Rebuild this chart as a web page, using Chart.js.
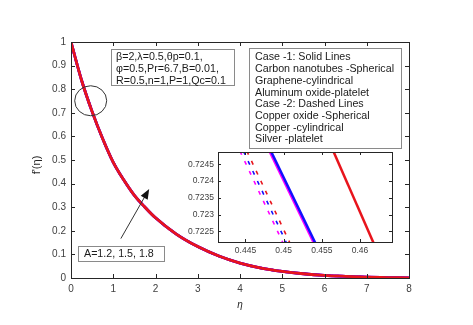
<!DOCTYPE html>
<html>
<head>
<meta charset="utf-8">
<script src="https://cdn.jsdelivr.net/npm/chart.js@4"></script>
<style>
body { margin: 0; background: #fff; }
#wrap { position: relative; width: 473px; height: 325px; }
#main { position: absolute; left: 0; top: 0; }
#inset { position: absolute; left: 170px; top: 140px; }
</style>
</head>
<body>
<div id="wrap">
<canvas id="main" width="473" height="325"></canvas>
<canvas id="inset" width="230" height="120"></canvas>
</div>
<script>
// main curve (all six cases overlap at this scale)
var eta = [0, 0.25, 0.5, 0.75, 1, 1.25, 1.5, 1.75, 2, 2.5, 3, 3.5, 4, 4.5, 5, 5.5, 6, 6.5, 7, 7.5, 8];
var fPrime = [1.000, 0.838, 0.705, 0.590, 0.490, 0.415, 0.350, 0.300, 0.255, 0.185, 0.133, 0.093, 0.063, 0.042, 0.028, 0.018, 0.011, 0.007, 0.004, 0.002, 0.000];

var seriesNames = ['Copper oxide -Spherical', 'Copper -cylindrical', 'Silver -platelet',
                   'Carbon nanotubes -Spherical', 'Graphene-cylindrical', 'Aluminum oxide-platelet'];
var seriesColors = ['#ff00ff', '#1010ff', '#e8141c', '#ff00ff', '#1010ff', '#e8141c'];
var seriesDashed = [true, true, true, false, false, false];
var seriesDashOffset = [0, 2.9, 5.9, 0, 0, 0];   // lines up the dashes of the three dashed cases
var seriesOrder = [5, 4, 3, 2, 1, 0];   // red solid drawn on top

// zoomed inset near eta = 0.45 (values at the two ends of the inset window)
var insetEta = [0.44, 0.465];
var insetCuOxide = [0.72698, 0.71481];
var insetCu = [0.72720, 0.71503];
var insetAg = [0.72742, 0.71525];
var insetCNT = [0.72874, 0.71694];
var insetGraphene = [0.72883, 0.71703];
var insetAl2O3 = [0.73348, 0.72048];
var insetSeries = [insetCuOxide, insetCu, insetAg, insetCNT, insetGraphene, insetAl2O3];

var xTicks = [0, 1, 2, 3, 4, 5, 6, 7, 8];
var yTicks = [0, 0.1, 0.2, 0.3, 0.4, 0.5, 0.6, 0.7, 0.8, 0.9, 1];
var insetXTicks = [0.445, 0.45, 0.455, 0.46];
var insetYTicks = [0.7225, 0.723, 0.7235, 0.724, 0.7245];

var paramLines = ['β=2,λ=0.5,θp=0.1,', 'φ=0.5,Pr=6.7,B=0.01,', 'R=0.5,n=1,P=1,Qc=0.1'];
var legendLines = ['Case -1: Solid Lines', 'Carbon nanotubes -Spherical', 'Graphene-cylindrical',
                   'Aluminum oxide-platelet', 'Case -2: Dashed Lines', 'Copper oxide -Spherical',
                   'Copper -cylindrical', 'Silver -platelet'];
var aLabel = 'A=1.2, 1.5, 1.8';

var FONT = '"Liberation Sans", Arial, sans-serif';
var AXIS = '#262626';

function pts(xs, ys) {
    return xs.map(function(x, i) { return { x: x, y: ys[i] }; });
}

function makeDatasets(xs, ysFor, solidW, dashW) {
    return seriesNames.map(function(name, i) {
        return {
            label: name,
            data: pts(xs, ysFor(i)),
            order: seriesOrder[i],
            borderColor: seriesColors[i],
            borderWidth: seriesDashed[i] ? dashW : solidW,
            borderDash: seriesDashed[i] ? [4, 7] : [],
            borderDashOffset: seriesDashOffset[i],
            pointRadius: 0,
            fill: false,
            cubicInterpolationMode: 'monotone'
        };
    });
}

// box around the plot with inward tick marks (MATLAB style)
function drawFrame(chart, len) {
    var c = chart.ctx, a = chart.chartArea;
    var sx = chart.scales.x, sy = chart.scales.y;
    c.save();
    c.strokeStyle = AXIS;
    c.lineWidth = 1;
    c.strokeRect(Math.round(a.left) + 0.5, Math.round(a.top) + 0.5,
                 Math.round(a.right - a.left), Math.round(a.bottom - a.top));
    c.beginPath();
    sx.ticks.forEach(function(t) {
        var px = Math.round(sx.getPixelForValue(t.value)) + 0.5;
        c.moveTo(px, a.bottom); c.lineTo(px, a.bottom - len);
        c.moveTo(px, a.top); c.lineTo(px, a.top + len);
    });
    sy.ticks.forEach(function(t) {
        var py = Math.round(sy.getPixelForValue(t.value)) + 0.5;
        c.moveTo(a.left, py); c.lineTo(a.left + len, py);
        c.moveTo(a.right, py); c.lineTo(a.right - len, py);
    });
    c.stroke();
    c.restore();
}

function textBox(c, sx, sy, box, lines, pad, first) {
    var l = Math.round(sx.getPixelForValue(box[0])) + 0.5;
    var t = Math.round(sy.getPixelForValue(box[1])) + 0.5;
    var r = Math.round(sx.getPixelForValue(box[2])) + 0.5;
    var b = Math.round(sy.getPixelForValue(box[3])) + 0.5;
    c.fillStyle = '#fff';
    c.fillRect(l, t, r - l, b - t);
    c.strokeStyle = '#8a8a8a';
    c.lineWidth = 1;
    c.strokeRect(l, t, r - l, b - t);
    c.fillStyle = '#1a1a1a';
    c.font = '10.7px ' + FONT;
    c.textBaseline = 'middle';
    c.textAlign = 'left';
    lines.forEach(function(s, i) {
        c.fillText(s, l + pad, t + first + i * 11.7);
    });
}

var mainDecor = {
    id: 'mainDecor',
    afterDraw: function(chart) {
        var c = chart.ctx, a = chart.chartArea;
        var sx = chart.scales.x, sy = chart.scales.y;
        drawFrame(chart, 4);
        c.save();

        textBox(c, sx, sy, [0.94, 0.970, 3.85, 0.819], paramLines, 4.5, 8);
        textBox(c, sx, sy, [4.215, 0.975, 7.82, 0.551], legendLines, 5.5, 9);
        textBox(c, sx, sy, [0.158, 0.134, 2.206, 0.073], [aLabel], 5.5, 8);

        // circle round the zoomed region
        c.strokeStyle = '#333';
        c.lineWidth = 1;
        c.beginPath();
        c.ellipse(sx.getPixelForValue(0.466), sy.getPixelForValue(0.751), 16, 15, 0, 0, Math.PI * 2);
        c.stroke();

        // arrow
        var x0 = sx.getPixelForValue(1.18), y0 = sy.getPixelForValue(0.167);
        var x1 = sx.getPixelForValue(1.85), y1 = sy.getPixelForValue(0.377);
        var ang = Math.atan2(y1 - y0, x1 - x0);
        c.beginPath();
        c.moveTo(x0, y0);
        c.lineTo(x1 - 6 * Math.cos(ang), y1 - 6 * Math.sin(ang));
        c.stroke();
        c.fillStyle = '#111';
        c.beginPath();
        c.moveTo(x1, y1);
        c.lineTo(x1 - 10 * Math.cos(ang) + 4 * Math.sin(ang), y1 - 10 * Math.sin(ang) - 4 * Math.cos(ang));
        c.lineTo(x1 - 10 * Math.cos(ang) - 4 * Math.sin(ang), y1 - 10 * Math.sin(ang) + 4 * Math.cos(ang));
        c.closePath();
        c.fill();

        // axis titles
        c.fillStyle = '#262626';
        c.textAlign = 'center';
        c.textBaseline = 'middle';
        c.font = 'italic 10px ' + FONT;
        c.fillText('η', (a.left + a.right) / 2, 305);
        c.translate(37, 165);
        c.rotate(-Math.PI / 2);
        c.font = '11px ' + FONT;
        c.fillText("f'(η)", 0, 0);
        c.restore();
    }
};

var tickFont = { family: FONT, size: 10 };

new Chart(document.getElementById('main'), {
    type: 'line',
    data: { datasets: makeDatasets(eta, function() { return fPrime; }, 2.8, 2.5) },
    options: {
        responsive: false,
        animation: false,
        layout: { padding: { top: 42, right: 64, left: 0, bottom: 0 } },
        plugins: { legend: { display: false }, tooltip: { enabled: false } },
        scales: {
            x: {
                type: 'linear', min: 0, max: 8,
                afterBuildTicks: function(s) { s.ticks = xTicks.map(function(v) { return { value: v }; }); },
                afterFit: function(s) { s.height = 47; },
                ticks: { padding: 5, color: '#404040', font: tickFont, maxRotation: 0,
                         callback: function(v) { return String(+v.toFixed(2)); } },
                grid: { display: false, drawTicks: false },
                border: { display: false }
            },
            y: {
                type: 'linear', min: 0, max: 1,
                afterBuildTicks: function(s) { s.ticks = yTicks.map(function(v) { return { value: v }; }); },
                afterFit: function(s) { s.width = 71; },
                ticks: { padding: 5, color: '#404040', font: tickFont,
                         callback: function(v) { return String(+v.toFixed(2)); } },
                grid: { display: false, drawTicks: false },
                border: { display: false }
            }
        }
    },
    plugins: [mainDecor]
});

var insetDecor = {
    id: 'insetDecor',
    beforeDatasetsDraw: function(chart) {
        var a = chart.chartArea;
        chart.ctx.save();
        chart.ctx.fillStyle = '#fff';
        chart.ctx.fillRect(a.left, a.top, a.right - a.left, a.bottom - a.top);
        chart.ctx.restore();
    },
    afterDraw: function(chart) { drawFrame(chart, 3); }
};

var insetFont = { family: FONT, size: 8.5 };

new Chart(document.getElementById('inset'), {
    type: 'line',
    data: { datasets: makeDatasets(insetEta, function(i) { return insetSeries[i]; }, 2.5, 1.6) },
    options: {
        responsive: false,
        animation: false,
        layout: { padding: { top: 12, right: 8, left: 0, bottom: 0 } },
        plugins: { legend: { display: false }, tooltip: { enabled: false } },
        scales: {
            x: {
                type: 'linear', min: 0.4414, max: 0.4642,
                afterBuildTicks: function(s) { s.ticks = insetXTicks.map(function(v) { return { value: v }; }); },
                afterFit: function(s) { s.height = 18; },
                ticks: { padding: 4, color: '#404040', font: insetFont, maxRotation: 0,
                         callback: function(v) { return String(+v.toFixed(4)); } },
                grid: { display: false, drawTicks: false },
                border: { display: false }
            },
            y: {
                type: 'linear', min: 0.72218, max: 0.72487,
                afterBuildTicks: function(s) { s.ticks = insetYTicks.map(function(v) { return { value: v }; }); },
                afterFit: function(s) { s.width = 48; },
                ticks: { padding: 4, color: '#404040', font: insetFont,
                         callback: function(v) { return String(+v.toFixed(4)); } },
                grid: { display: false, drawTicks: false },
                border: { display: false }
            }
        }
    },
    plugins: [insetDecor]
});
</script>
</body>
</html>
